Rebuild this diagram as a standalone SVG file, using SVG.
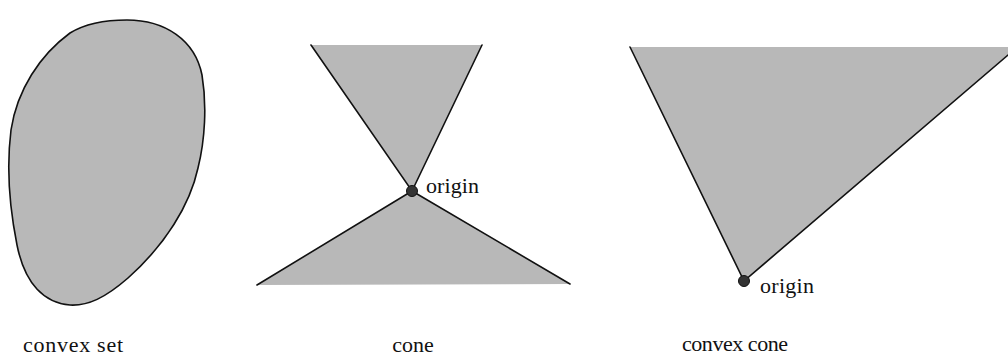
<svg xmlns="http://www.w3.org/2000/svg" width="1008" height="355" viewBox="0 0 1008 355">
<style>
.fill{fill:#b8b8b8;stroke:none}
.edge{stroke:#111;stroke-width:1.6;fill:none;stroke-linecap:round}
.dot{fill:#333;stroke:#111;stroke-width:1}
.lbl{font-family:"Liberation Serif","Times New Roman",serif;font-size:22px;fill:#111}
</style>
<rect width="1008" height="355" fill="#fff"/>
<g id="convex-set">
<path class="fill" d="M127 20 C165 20 195 40 202 75 C207 105 205 140 198 168 C190 205 165 245 128 278 C105 298 88 306 70 305 C45 303 25 285 17 245 C10 210 6 170 11 130 C17 90 40 55 70 33 C88 22 108 20 127 20 Z"/>
<path class="edge" d="M127 20 C165 20 195 40 202 75 C207 105 205 140 198 168 C190 205 165 245 128 278 C105 298 88 306 70 305 C45 303 25 285 17 245 C10 210 6 170 11 130 C17 90 40 55 70 33 C88 22 108 20 127 20 Z"/>
<text class="lbl" x="23" y="352" textLength="100">convex set</text>
</g>
<g id="cone">
<polygon class="fill" points="311,45 482,45 412,191"/>
<polygon class="fill" points="412,191 570,284 257,285"/>
<path class="edge" d="M311 45 L412 191 L482 45 M257 285 L412 191 L570 284"/>
<circle class="dot" cx="412" cy="191" r="5.5"/>
<text class="lbl" x="426" y="193" textLength="53">origin</text>
<text class="lbl" x="413" y="352" text-anchor="middle">cone</text>
</g>
<g id="convex-cone">
<polygon class="fill" points="630,47 1008,47 1008,55 744,281"/>
<path class="edge" d="M630 47 L744 281 L1008 55"/>
<circle class="dot" cx="744" cy="281" r="5.5"/>
<text class="lbl" x="760" y="293" textLength="54">origin</text>
<text class="lbl" x="682" y="351" textLength="106">convex cone</text>
</g>
<g id="connectors"/>
</svg>
